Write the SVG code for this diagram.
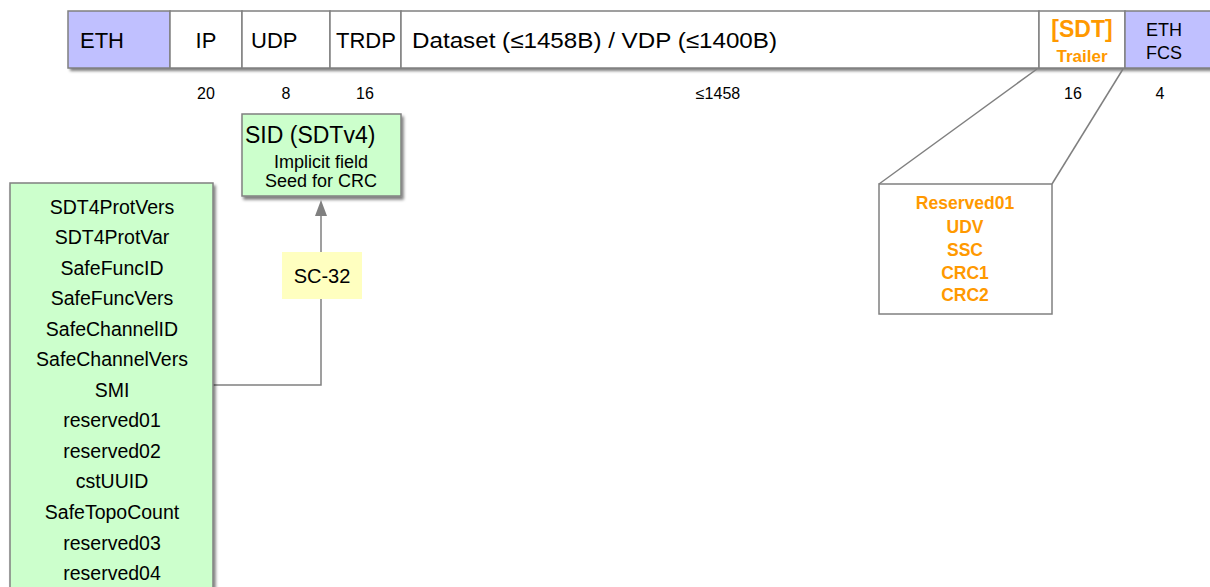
<svg xmlns="http://www.w3.org/2000/svg" width="1210" height="587" viewBox="0 0 1210 587">
  <defs>
    <filter id="shadow" x="-5%" y="-20%" width="115%" height="150%">
      <feDropShadow dx="2" dy="3" stdDeviation="1.5" flood-color="#000" flood-opacity="0.5"/>
    </filter>
  </defs>
  <style>
    text { font-family: "Liberation Sans", Arial, sans-serif; fill: #000; }
    .cell { stroke: #808080; stroke-width: 1.5; }
    .eth { fill: #c0c0ff; }
    .plain { fill: #ffffff; }
    .green { fill: #ccffcc; stroke: #808080; stroke-width: 1.5; }
    .big { font-size: 22px; }
    .list { font-size: 19.5px; text-anchor: middle; }
    .small { font-size: 18px; text-anchor: middle; }
    .num { font-size: 16px; text-anchor: middle; }
    .orange { fill: #ff9900; font-weight: bold; text-anchor: middle; }
    .line { stroke: #808080; stroke-width: 1.5; fill: none; }
  </style>

  <!-- frame layout bar -->
  <g id="frame">
    <rect x="68" y="11" width="1150" height="57" fill="#fff" filter="url(#shadow)"/>
    <g id="eth-header">
      <rect class="cell eth" x="68" y="11" width="102" height="57"/>
      <text class="big" x="80" y="48">ETH</text>
    </g>
    <g id="ip">
      <rect class="cell plain" x="170" y="11" width="72" height="57"/>
      <text class="big" x="206" y="48" text-anchor="middle">IP</text>
    </g>
    <g id="udp">
      <rect class="cell plain" x="242" y="11" width="88" height="57"/>
      <text class="big" x="251" y="48" font-size="23">UDP</text>
    </g>
    <g id="trdp">
      <rect class="cell plain" x="330" y="11" width="71" height="57"/>
      <text class="big" x="366" y="48" text-anchor="middle">TRDP</text>
    </g>
    <g id="dataset">
      <rect class="cell plain" x="401" y="11" width="638" height="57"/>
      <text class="big" x="412" y="48" font-size="23" textLength="365" lengthAdjust="spacingAndGlyphs">Dataset (≤1458B) / VDP (≤1400B)</text>
    </g>
    <g id="sdt">
      <rect class="cell plain" x="1039" y="11" width="86" height="57"/>
      <text class="orange" x="1082" y="37" font-size="23">[SDT]</text>
      <text class="orange" x="1082" y="62" font-size="17">Trailer</text>
    </g>
    <g id="eth-fcs">
      <rect class="cell eth" x="1125" y="11" width="93" height="57"/>
      <text x="1164" y="36" font-size="18" text-anchor="middle">ETH</text>
      <text x="1164" y="59" font-size="18" text-anchor="middle">FCS</text>
    </g>
  </g>

  <!-- field sizes in bytes -->
  <g id="sizes">
    <text class="num" x="206" y="99">20</text>
    <text class="num" x="286" y="99">8</text>
    <text class="num" x="365" y="99">16</text>
    <text class="num" x="718" y="99">≤1458</text>
    <text class="num" x="1073" y="99">16</text>
    <text class="num" x="1160" y="99">4</text>
  </g>

  <!-- connectors -->
  <g id="connectors">
    <polyline class="line" points="213,385 321,385 321,214"/>
    <polygon points="321,200 315,216 327,216" fill="#808080"/>
    <line class="line" x1="1037" y1="69" x2="879" y2="184"/>
    <line class="line" x1="1123" y1="69" x2="1052" y2="184"/>
  </g>

  <!-- SID box -->
  <g id="sid">
    <rect class="green" x="242" y="114" width="159" height="82" filter="url(#shadow)"/>
    <text x="245" y="143" font-size="23">SID (SDTv4)</text>
    <text class="small" x="321" y="168">Implicit field</text>
    <text class="small" x="321" y="187">Seed for CRC</text>
  </g>

  <!-- SC-32 label -->
  <g id="sc32">
    <rect x="282" y="252" width="80" height="47" fill="#ffffc0"/>
    <text x="322" y="283" font-size="20" text-anchor="middle">SC-32</text>
  </g>

  <!-- SID input fields -->
  <g id="sid-fields">
    <rect class="green" x="10" y="183" width="203" height="420" filter="url(#shadow)"/>
    <g class="list">
      <text x="112" y="214">SDT4ProtVers</text>
      <text x="112" y="244">SDT4ProtVar</text>
      <text x="112" y="275">SafeFuncID</text>
      <text x="112" y="305">SafeFuncVers</text>
      <text x="112" y="336">SafeChannelID</text>
      <text x="112" y="366">SafeChannelVers</text>
      <text x="112" y="397">SMI</text>
      <text x="112" y="427">reserved01</text>
      <text x="112" y="458">reserved02</text>
      <text x="112" y="488">cstUUID</text>
      <text x="112" y="519">SafeTopoCount</text>
      <text x="112" y="550">reserved03</text>
      <text x="112" y="580">reserved04</text>
    </g>
  </g>

  <!-- SDT trailer contents -->
  <g id="trailer">
    <rect x="879" y="184" width="173" height="130" fill="#fff" stroke="#808080" stroke-width="1.5"/>
    <g font-size="17.5">
      <text class="orange" x="965" y="209">Reserved01</text>
      <text class="orange" x="965" y="233">UDV</text>
      <text class="orange" x="965" y="256">SSC</text>
      <text class="orange" x="965" y="279">CRC1</text>
      <text class="orange" x="965" y="301">CRC2</text>
    </g>
  </g>
</svg>
